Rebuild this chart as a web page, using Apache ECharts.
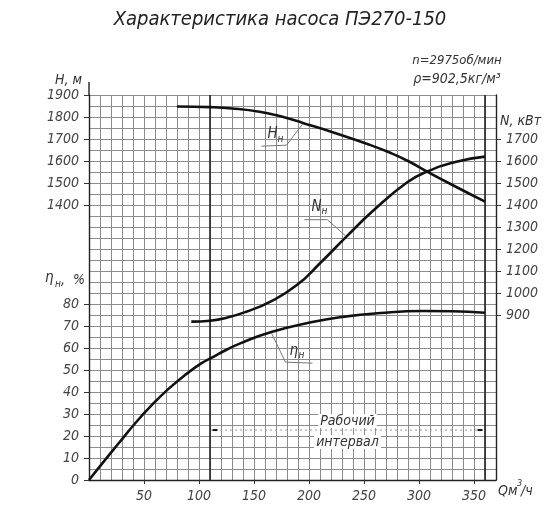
<!DOCTYPE html>
<html><head><meta charset="utf-8">
<script src="https://cdn.jsdelivr.net/npm/echarts@6/dist/echarts.min.js"></script>
<style>html,body{margin:0;padding:0;background:#fff}#c{width:560px;height:512px}</style>
</head><body><div id="c"></div>
<script>
// ---- data ----
const qH     = [80, 110, 130, 155, 175, 195, 225, 255, 275, 290, 307, 330, 360];
const headH  = [1848, 1845, 1839, 1824, 1802, 1772, 1725, 1674, 1635, 1600, 1553, 1492, 1415];
const qN     = [93, 110, 125, 143, 165, 189, 210, 234, 259, 289, 307, 334, 360];
const powerN = [870, 874, 887, 915, 961, 1036, 1135, 1256, 1377, 1502, 1551, 1597, 1620];
const qEta   = [0, 15, 27, 42, 57, 72, 87, 102, 113, 125, 137, 165, 204, 228, 265, 304, 330, 360];
const etaV   = [0, 9.4, 16.7, 25.8, 34.0, 41.3, 47.6, 53.0, 56.0, 59.2, 62.0, 67.2, 71.9, 74.0, 75.9, 76.8, 76.7, 76];
const qTicks   = [50, 100, 150, 200, 250, 300, 350];
const hTicks   = [1400, 1500, 1600, 1700, 1800, 1900];
const nTicks   = [900, 1000, 1100, 1200, 1300, 1400, 1500, 1600, 1700];
const etaTicks = [0, 10, 20, 30, 40, 50, 60, 70, 80];
const workInterval = [110, 360];
const workLevel = 22.7;
const titleText = 'Характеристика насоса ПЭ270-150';
const speedText = 'n=2975об/мин';
const densText  = 'ρ=902,5кг/м³';

const FONT = '"Liberation Sans Narrow","DejaVu Sans Condensed","Noto Sans",sans-serif';
const LBL = {fontFamily: FONT, fontStyle: 'italic', fontSize: 14, color: '#444', formatter: v => String(v)};
const GRIDC = '#8c8c8c';
const AXL = {color: '#222', width: 1.4};

const chart = echarts.init(document.getElementById('c'), null, {renderer: 'canvas'});
const pairs = (xs, ys) => xs.map((x, i) => [x, ys[i]]);
const curve = {color: '#111', width: 2.6};

const gridAxisX = {
  type: 'value', position: 'bottom', min: 0, max: 370, interval: 10,
  axisLine: {show: true, onZero: false, lineStyle: AXL},
  axisTick: {show: false}, axisLabel: {show: false},
  splitLine: {show: true, lineStyle: {color: GRIDC, width: 1}}
};
const labelAxisX = {
  type: 'value', position: 'bottom', offset: 0, min: 0, max: 370,
  axisLine: {show: false, onZero: false},
  axisTick: {show: true, length: 4, customValues: qTicks, lineStyle: {color: '#333'}},
  axisLabel: Object.assign({margin: 9, customValues: qTicks}, LBL),
  splitLine: {show: false}
};
const hvAxis = (pos, ticks, mn, mx) => ({
  type: 'value', position: pos, offset: 0, min: mn, max: mx,
  axisLine: {show: pos === 'right', onZero: false, lineStyle: AXL},
  axisTick: {show: true, length: 5, customValues: ticks, lineStyle: {color: '#333'}},
  axisLabel: Object.assign({margin: 10, customValues: ticks}, LBL),
  splitLine: {show: false}
});
const sm = {smooth: 0.5, showSymbol: false, lineStyle: curve, z: 5, xAxisIndex: 0};

chart.setOption({
  animation: false,
  backgroundColor: '#fff',
  grid: {left: 89, right: 64, top: 95, bottom: 32, containLabel: false, outerBoundsMode: 'none'},
  xAxis: [gridAxisX, labelAxisX],
  yAxis: [
    { type: 'value', position: 'left', min: 150, max: 1900, interval: 50,
      axisLine: {show: true, onZero: false, lineStyle: AXL},
      axisTick: {show: false}, axisLabel: {show: false},
      splitLine: {show: true, lineStyle: {color: GRIDC, width: 1}} },
    hvAxis('left', hTicks, 150, 1900),
    hvAxis('left', etaTicks, 0, 175),
    hvAxis('right', nTicks, 150, 1900)
  ],
  series: [
    Object.assign({ name: 'H', type: 'line', yAxisIndex: 1, data: pairs(qH, headH),
      markLine: { silent: true, symbol: 'none', label: {show: false},
        lineStyle: {color: '#222', width: 1.6, type: 'solid'},
        data: workInterval.map(v => ({xAxis: v})) } }, sm),
    Object.assign({ name: 'N', type: 'line', yAxisIndex: 3, data: pairs(qN, powerN) }, sm),
    Object.assign({ name: 'eta', type: 'line', yAxisIndex: 2, data: pairs(qEta, etaV) }, sm),
    { name: 'work', type: 'line', xAxisIndex: 0, yAxisIndex: 2, z: 4,
      data: [
        {value: [workInterval[0], workLevel], symbolOffset: [5, 0]},
        {value: [workInterval[1], workLevel], symbolOffset: [-5, 0]}
      ],
      symbol: 'rect', symbolSize: [5, 2], showSymbol: true,
      itemStyle: {color: '#111'},
      lineStyle: {color: '#999', width: 1, type: [2, 3]} }
  ]
});

function px(q, v, yi) { return chart.convertToPixel({xAxisIndex: 0, yAxisIndex: yi}, [q, v]); }
const txt = (x, y, s, o) => ({type: 'text', x, y, silent: true, z: 20,
  style: Object.assign({text: s, font: 'italic 14px ' + FONT, fill: '#333', textAlign: 'left', textVerticalAlign: 'middle'}, o || {})});
const seg = pts => ({type: 'polyline', silent: true, z: 15, shape: {points: pts}, style: {stroke: '#777', lineWidth: 1, fill: null}});

const aH = px(qH[5], headH[5], 1);
const aN = px(qN[7], powerN[7], 3);
const aE = px(qEta[11], etaV[11], 2);
const mid = px((workInterval[0] + workInterval[1]) / 2, workLevel, 2);

chart.setOption({graphic: [
  txt(280, 20, titleText, {font: 'italic 20px ' + FONT, textAlign: 'center', fill: '#222'}),
  txt(457, 61, speedText, {font: 'italic 13px ' + FONT, textAlign: 'center'}),
  txt(457, 79, densText, {font: 'italic 14px ' + FONT, textAlign: 'center'}),
  txt(55, 80, 'H, м', {font: 'italic 14px ' + FONT}),
  txt(500, 121, 'N, кВт', {font: 'italic 14px ' + FONT}),
  txt(45, 278, 'η', {font: 'italic 15px ' + FONT}),
  txt(55, 284, 'н', {font: 'italic 10px ' + FONT}),
  txt(61, 280, ',  %', {font: 'italic 14px ' + FONT}),
  txt(498, 491, 'Qм', {font: 'italic 14px ' + FONT}),
  txt(517, 484, '3', {font: 'italic 9px ' + FONT}),
  txt(521, 491, '/ч', {font: 'italic 14px ' + FONT}),
  {type: 'line', silent: true, shape: {x1: 89, y1: 82, x2: 89, y2: 96}, style: {stroke: '#222', lineWidth: 1.4}},
  // curve labels with leader lines
  seg([[aH[0] - 1, aH[1] + 1], [aH[0] - 17, aH[1] + 22], [aH[0] - 42, aH[1] + 23]]),
  txt(aH[0] - 36, aH[1] + 11, 'H', {font: 'italic 15px ' + FONT}),
  txt(aH[0] - 26, aH[1] + 16, 'н', {font: 'italic 10px ' + FONT}),
  seg([[aN[0] - 1, aN[1] - 1], [aN[0] - 19, aN[1] - 17], [aN[0] - 42, aN[1] - 17]]),
  txt(aN[0] - 35, aN[1] - 30, 'N', {font: 'italic 15px ' + FONT}),
  txt(aN[0] - 25, aN[1] - 25, 'н', {font: 'italic 10px ' + FONT}),
  seg([[aE[0] + 1, aE[1] + 1], [aE[0] + 15, aE[1] + 30], [aE[0] + 42, aE[1] + 31]]),
  txt(aE[0] + 19, aE[1] + 19, 'η', {font: 'italic 15px ' + FONT}),
  txt(aE[0] + 28, aE[1] + 23, 'н', {font: 'italic 10px ' + FONT}),
  // working interval caption
  txt(mid[0], mid[1] - 9, 'Рабочий', {font: 'italic 14px ' + FONT, textAlign: 'center', backgroundColor: '#fff', padding: [0, 2]}),
  txt(mid[0], mid[1] + 12, 'интервал', {font: 'italic 14px ' + FONT, textAlign: 'center', backgroundColor: '#fff', padding: [0, 2]})
]});
</script>
</body></html>
